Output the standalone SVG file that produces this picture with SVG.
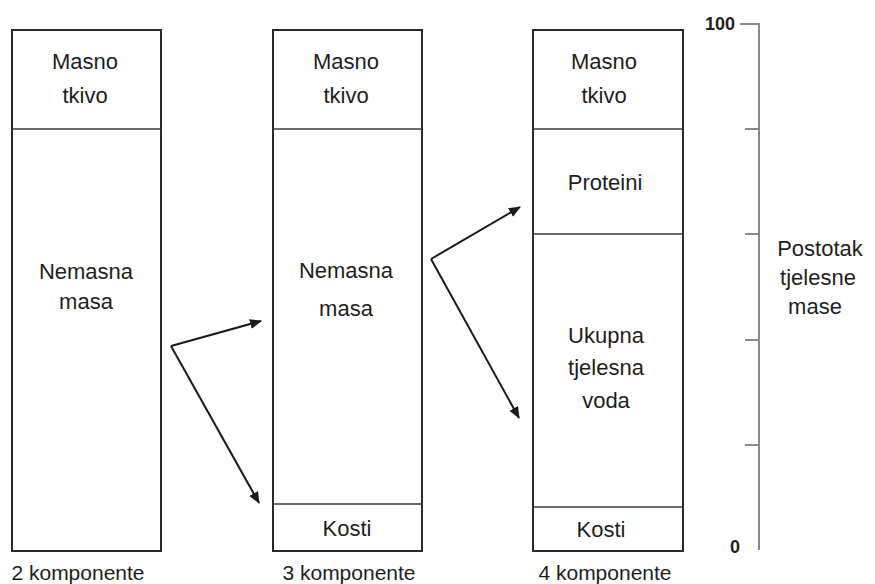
<svg xmlns="http://www.w3.org/2000/svg" width="875" height="584" viewBox="0 0 875 584">
<style>
.box{fill:#fff;stroke:#2a2a2a;stroke-width:2}
.div{stroke:#3a3a3a;stroke-width:1.4}
.t{font-family:"Liberation Sans",Arial,sans-serif;font-size:22px;fill:#1e1e1e;text-anchor:middle}
.b{font-family:"Liberation Sans",Arial,sans-serif;font-size:21px;fill:#1e1e1e;text-anchor:middle}
.n{font-family:"Liberation Sans",Arial,sans-serif;font-size:18px;font-weight:bold;fill:#222}
.arr{stroke:#1a1a1a;stroke-width:2;fill:none;marker-end:url(#ah)}
.ax{stroke:#8a8a8a;stroke-width:2;fill:none}
</style>
<defs>
<marker id="ah" viewBox="0 0 12 10" refX="11" refY="5" markerWidth="12" markerHeight="10" markerUnits="userSpaceOnUse" orient="auto">
<path d="M0,0 L12,5 L0,10 Z" fill="#1a1a1a"/>
</marker>
</defs>
<rect width="875" height="584" fill="#fff"/>
<g id="col1">
<rect class="box" x="12" y="30" width="149" height="521"/>
<line class="div" x1="12" y1="129" x2="161" y2="129"/>
<text class="t" x="85" y="69">Masno</text>
<text class="t" x="85" y="103">tkivo</text>
<text class="t" x="86" y="279">Nemasna</text>
<text class="t" x="86" y="309">masa</text>
<text class="b" x="78" y="580">2 komponente</text>
</g>
<g id="col2">
<rect class="box" x="273" y="30" width="149" height="521"/>
<line class="div" x1="273" y1="129" x2="422" y2="129"/>
<line class="div" x1="273" y1="504" x2="422" y2="504"/>
<text class="t" x="346" y="69">Masno</text>
<text class="t" x="346" y="103">tkivo</text>
<text class="t" x="346" y="278">Nemasna</text>
<text class="t" x="346" y="316">masa</text>
<text class="t" x="347" y="536">Kosti</text>
<text class="b" x="349" y="580">3 komponente</text>
</g>
<g id="col3">
<rect class="box" x="533" y="30" width="150" height="521"/>
<line class="div" x1="533" y1="129" x2="683" y2="129"/>
<line class="div" x1="533" y1="234" x2="683" y2="234"/>
<line class="div" x1="533" y1="507" x2="683" y2="507"/>
<text class="t" x="604" y="69">Masno</text>
<text class="t" x="604" y="103">tkivo</text>
<text class="t" x="605" y="190">Proteini</text>
<text class="t" x="606" y="343">Ukupna</text>
<text class="t" x="606" y="375">tjelesna</text>
<text class="t" x="606" y="408">voda</text>
<text class="t" x="601" y="537">Kosti</text>
<text class="b" x="605" y="580">4 komponente</text>
</g>
<g id="scale">
<path class="ax" d="M740,24 H759 V550"/>
<line class="ax" x1="745" y1="129" x2="759" y2="129"/>
<line class="ax" x1="745" y1="234" x2="759" y2="234"/>
<line class="ax" x1="745" y1="340" x2="759" y2="340"/>
<line class="ax" x1="745" y1="445" x2="759" y2="445"/>
<text class="n" x="735" y="30" text-anchor="end">100</text>
<text class="n" x="740" y="553" text-anchor="end">0</text>
<text class="t" x="820" y="256">Postotak</text>
<text class="t" x="818" y="285">tjelesne</text>
<text class="t" x="815" y="314">mase</text>
</g>
<g id="connectors">
<path class="arr" d="M171,346 L261,321"/>
<path class="arr" d="M171,346 L259,503"/>
<path class="arr" d="M431,259 L520,207"/>
<path class="arr" d="M431,259 L519,418"/>
</g>
</svg>
